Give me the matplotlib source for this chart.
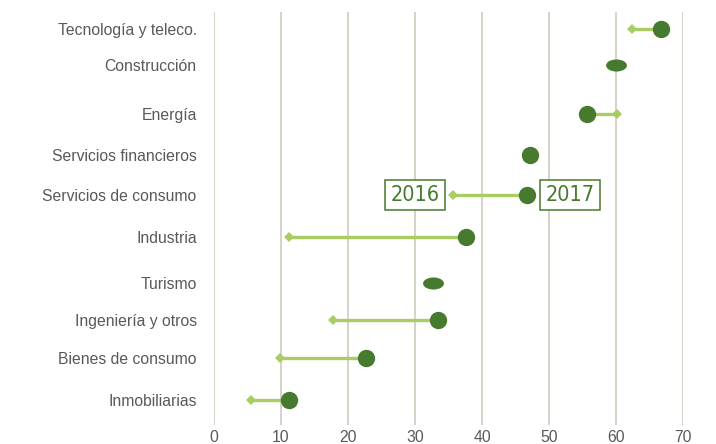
import matplotlib
matplotlib.use("Agg")
import matplotlib.pyplot as plt
from matplotlib.path import Path
from matplotlib.transforms import Affine2D

categories = ["Tecnología y teleco.", "Construcción", "Energía", "Servicios financieros",
              "Servicios de consumo", "Industria", "Turismo", "Ingeniería y otros",
              "Bienes de consumo", "Inmobiliarias"]
row_y = [9.6, 8.71, 7.53, 6.54, 5.57, 4.55, 3.44, 2.55, 1.62, 0.6]
v2016 = [62.4, 60.0, 60.1, 47.2, 35.7, 11.2, 32.7, 17.8, 9.9, 5.5]
v2017 = [66.7, 60.0, 55.7, 47.2, 46.7, 37.6, 32.7, 33.4, 22.7, 11.2]
flat_rows = ["Construcción", "Turismo"]
xticks = [0, 10, 20, 30, 40, 50, 60, 70]

dark = "#467a2e"
light = "#a9cd62"
grid = "#d3cfc4"
txt = "#595959"

plt.rcParams["font.family"] = ["Liberation Sans", "DejaVu Sans"]

fig = plt.figure(figsize=(7.16, 4.44), dpi=100)
ax = fig.add_axes([214/716, 19/444, (683-214)/716, (425-12)/444])

ellipse = Path.unit_circle().transformed(Affine2D().scale(1.0, 0.58))

for cat, y, a, b in zip(categories, row_y, v2016, v2017):
    ax.plot([a, b], [y, y], color=light, lw=2.4, solid_capstyle="butt", zorder=2)
    ax.plot([a], [y], marker="D", color=light, ms=5, mew=0, zorder=3)
    if cat in flat_rows:
        ax.plot([b], [y], marker=ellipse, color=dark, ms=15, mew=0, zorder=4)
    else:
        ax.plot([b], [y], marker="o", color=dark, ms=12.5, mew=0, zorder=4)

ax.set_xlim(0, 70)
ax.set_ylim(0, 10)
ax.set_xticks(xticks)
ax.set_xticklabels([str(t) for t in xticks])
ax.set_yticks(row_y)
ax.set_yticklabels(categories)
for x in xticks:
    ax.axvline(x, color=grid, lw=1.3, zorder=1)
for s in ax.spines.values():
    s.set_visible(False)
ax.tick_params(axis="both", length=0, colors=txt, labelsize=11.3)
ax.tick_params(axis="y", pad=12.5)
ax.tick_params(axis="x", pad=3.5)

sc_row = row_y[categories.index("Servicios de consumo")]
for label, xpos in [("2016", 30.0), ("2017", 53.1)]:
    ax.text(xpos, sc_row, label, ha="center", va="center", fontsize=15.5, color=dark,
            family=["DejaVu Sans"], fontstretch="condensed",
            bbox=dict(boxstyle="square,pad=0.25", fc="white", ec=dark, lw=1.1), zorder=5)

fig.savefig("out.png", dpi=100)
